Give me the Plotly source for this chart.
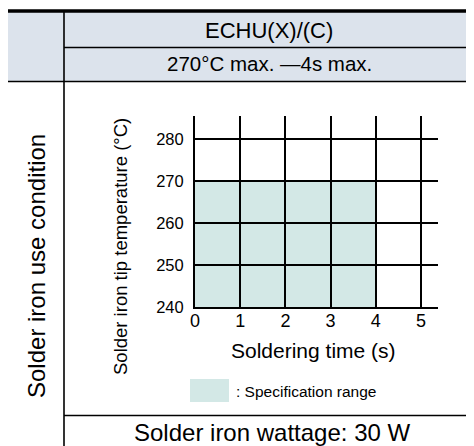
import plotly.graph_objects as go

# ---- data ----
x_ticks = [0, 1, 2, 3, 4, 5]
y_ticks = [240, 250, 260, 270, 280]
spec_time = [0, 4]          # s
spec_temp = [240, 270]      # °C
x_range = [0, 5.376]
y_range = [240, 285.48]

header_model = "ECHU(X)/(C)"
header_cond = "270°C max. —4s max."
row_label = "Solder iron use condition"
y_title = "Solder iron tip temperature (°C)"
x_title = "Soldering time (s)"
legend_label = ": Specification range"
footer = "Solder iron wattage: 30 W"

OFF = 8  # page body margin
W, H = 474 - OFF, 446 - OFF
L, R, T, B = 195 - OFF, 438 - OFF, 116 - OFF, 307 - OFF
FONT = "Arial, Liberation Sans, sans-serif"
HEAD_BG = "#dce3ec"
SPEC = "#d3e8e6"


def px(x):
    return (x - OFF - L) / (R - L)


def py(y):
    return (B - (y - OFF)) / (B - T)


fig = go.Figure()
fig.add_trace(go.Scatter(x=[None], y=[None], showlegend=False, hoverinfo="skip"))

shapes = []
# spec range rectangle (data coordinates, below grid)
shapes.append(dict(type="rect", xref="x", yref="y", x0=spec_time[0], x1=spec_time[1],
                   y0=spec_temp[0], y1=spec_temp[1], fillcolor=SPEC, line_width=0, layer="below"))
# header background
shapes.append(dict(type="rect", xref="paper", yref="paper", x0=px(8), x1=px(474),
                   y0=py(81), y1=py(11.5), fillcolor=HEAD_BG, line_width=0, layer="below"))


def hline(y, x0, x1, w=1.6):
    shapes.append(dict(type="line", xref="paper", yref="paper", x0=px(x0), x1=px(x1),
                       y0=py(y), y1=py(y), line=dict(color="black", width=w)))


def vline(x, y0, y1, w=1.6):
    shapes.append(dict(type="line", xref="paper", yref="paper", x0=px(x), x1=px(x),
                       y0=py(y0), y1=py(y1), line=dict(color="black", width=w)))


hline(11, 8, 474, 3.5)
hline(47.5, 64, 474)
hline(81.5, 8, 474)
hline(415.5, 64, 474)
vline(64, 11, 446)
# legend swatch
shapes.append(dict(type="rect", xref="paper", yref="paper", x0=px(190), x1=px(229),
                   y0=py(402), y1=py(379), fillcolor=SPEC, line_width=0))

ann = []


def text(t, x, y, size, angle=0, xanchor="center"):
    ann.append(dict(text=t, xref="paper", yref="paper", x=px(x), y=py(y), showarrow=False,
                    font=dict(size=size, color="black", family=FONT), textangle=angle,
                    xanchor=xanchor, yanchor="middle"))


text(header_model, 269, 30, 22)
text(header_cond, 269, 64, 20.5)
text(row_label, 36, 266, 24, -90)
text(y_title, 120, 247, 18.5, -90)
text(x_title, 313, 350, 21)
text(legend_label, 234, 391, 15.5, xanchor="left")
text(footer, 272, 432, 24)

fig.update_layout(
    width=W, height=H,
    margin=dict(l=L, r=W - R, t=T, b=H - B, pad=0),
    paper_bgcolor="white", plot_bgcolor="white",
    shapes=shapes, annotations=ann, showlegend=False,
    font=dict(family=FONT, color="black"),
)
fig.update_xaxes(range=x_range, tickvals=x_ticks, ticktext=[str(v) for v in x_ticks],
                 showgrid=True, gridcolor="black", gridwidth=2,
                 showline=True, linecolor="black", linewidth=2, zeroline=False,
                 ticks="", tickfont=dict(size=18, color="black"), ticklabelstandoff=-4,
                 fixedrange=True)
fig.update_yaxes(range=y_range, tickvals=y_ticks, ticktext=[str(v) for v in y_ticks],
                 showgrid=True, gridcolor="black", gridwidth=2,
                 showline=True, linecolor="black", linewidth=2, zeroline=False,
                 ticks="", tickfont=dict(size=16.5, color="black"), ticklabelstandoff=6,
                 fixedrange=True)

fig.write_html("out.html", config={"displayModeBar": False})
